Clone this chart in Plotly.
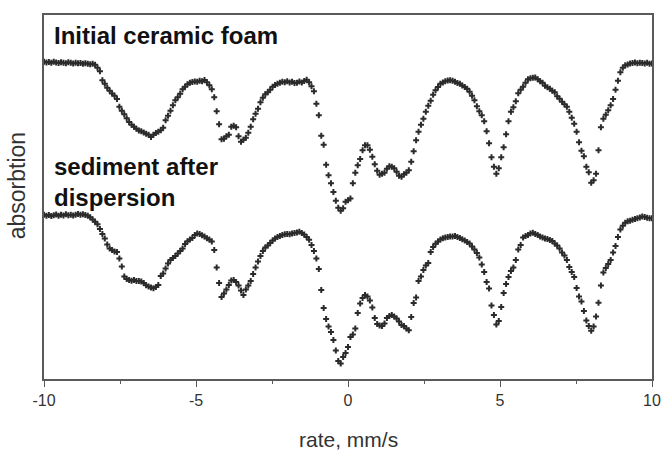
import numpy as np
import plotly.graph_objects as go

# Doppler velocity of each channel, mm/s (251 channels across the sweep)
velocity = np.linspace(-10.0, 10.0, 251)

# Absorption relative to each spectrum's off-resonance baseline (arbitrary units)
foam_abs = [
    -0.5, 0.3, -0.2, 0.6, -0.5, 0.2, 0.8, -0.1, 0.4, 1.0,
    0.1, 0.6, 1.2, 0.4, 1.0, 0.7, 1.5, 0.9, 1.6, 2.0,
    1.4, 2.5, 5.5, 9.0, 18.0, 21.5, 25.5, 28.5, 31.3, 33.5,
    36.8, 44.5, 48.5, 52.0, 56.0, 59.8, 62.5, 64.5, 66.6, 68.2,
    69.0, 70.4, 71.5, 72.6, 74.8, 72.5, 70.8, 69.6, 68.0, 65.5,
    58.0, 53.5, 48.5, 43.0, 38.0, 35.0, 31.5, 27.0, 24.5, 22.0,
    20.5, 19.8, 19.2, 19.5, 18.6, 18.9, 17.8, 20.0, 23.0, 27.0,
    35.0, 49.0, 62.0, 77.0, 76.5, 74.0, 72.5, 64.5, 63.5, 65.0,
    74.0, 79.5, 77.5, 75.5, 70.5, 64.5, 57.0, 51.5, 46.5, 40.0,
    35.5, 32.0, 30.0, 27.5, 24.5, 22.8, 21.5, 20.6, 19.5, 20.0,
    19.0, 20.2, 19.4, 20.7, 20.5, 19.2, 20.3, 18.7, 17.4, 20.0,
    24.0, 29.0, 41.5, 53.0, 73.5, 82.5, 102.5, 113.0, 121.0, 129.8,
    138.5, 145.5, 148.5, 146.0, 139.7, 138.0, 136.3, 121.0, 110.5, 103.0,
    96.8, 88.0, 83.0, 83.0, 87.5, 94.5, 102.0, 108.5, 112.5, 111.5,
    110.5, 106.5, 104.0, 104.5, 106.0, 109.5, 113.5, 114.5, 112.0, 110.5,
    108.0, 99.5, 89.0, 78.0, 69.5, 62.5, 56.5, 49.5, 43.5, 38.5,
    32.5, 28.0, 24.8, 21.5, 20.3, 19.0, 18.2, 18.0, 18.5, 19.5,
    20.8, 21.6, 23.2, 24.8, 26.5, 29.5, 33.5, 38.0, 44.0, 49.0,
    53.0, 59.0, 69.0, 81.0, 95.0, 104.5, 111.5, 106.0, 95.0, 85.0,
    72.0, 59.0, 49.5, 45.0, 39.0, 31.0, 27.5, 24.5, 20.5, 17.0,
    16.0, 15.5, 15.3, 17.0, 19.0, 20.5, 23.5, 25.0, 26.5, 28.5,
    30.0, 34.0, 36.5, 39.5, 42.0, 44.5, 49.5, 55.5, 61.5, 69.5,
    80.0, 88.5, 94.0, 104.5, 110.0, 120.5, 118.0, 111.5, 88.0, 65.0,
    56.5, 52.5, 48.0, 43.0, 36.8, 27.5, 18.5, 10.0, 5.5, 3.0,
    2.2, 1.2, 0.8, 0.2, 1.0, 0.4, 0.7, 1.3, 0.5, 1.4,
    1.2,
]

sediment_abs = [
    -0.5, 0.5, -0.2, 0.8, 0.0, -0.7, 0.6, -0.3, 0.3, -0.8,
    0.2, -0.4, 0.4, -0.5, -1.2, -0.4, -1.0, -0.2, 0.5, 2.0,
    4.3, 6.5, 9.0, 14.0, 19.0, 23.5, 29.5, 33.5, 35.0, 36.3,
    37.0, 43.5, 51.5, 61.5, 64.0, 65.0, 65.6, 64.8, 65.8, 66.0,
    66.5, 68.0, 70.2, 71.5, 72.5, 73.3, 72.0, 70.0, 61.0, 58.5,
    53.5, 48.5, 44.8, 43.0, 41.0, 38.5, 36.0, 33.5, 29.0, 26.2,
    24.5, 23.0, 20.0, 18.3, 19.0, 20.2, 21.3, 23.2, 24.5, 26.5,
    35.0, 52.5, 68.0, 82.0, 78.5, 74.5, 70.0, 65.5, 65.0, 67.0,
    70.5, 75.5, 80.0, 74.5, 70.5, 66.0, 59.0, 52.5, 46.5, 41.0,
    36.0, 32.5, 30.5, 28.0, 25.5, 23.3, 22.0, 20.8, 19.8, 19.2,
    18.8, 19.2, 18.4, 17.8, 17.3, 16.7, 18.0, 19.5, 21.8, 24.6,
    30.0, 36.0, 43.5, 53.8, 75.0, 93.0, 104.0, 111.5, 117.0, 125.0,
    135.5, 146.0, 148.5, 142.0, 138.0, 132.0, 122.0, 119.5, 113.5, 98.0,
    88.5, 83.0, 80.0, 81.5, 85.5, 92.5, 103.0, 109.0, 110.5, 111.0,
    108.5, 103.0, 101.0, 100.0, 101.5, 103.5, 106.5, 110.0, 111.0, 113.5,
    115.3, 102.0, 88.0, 82.5, 66.0, 61.5, 55.0, 50.5, 48.0, 37.0,
    32.0, 28.6, 26.5, 24.5, 23.2, 22.5, 22.0, 21.5, 21.3, 21.0,
    21.8, 23.0, 24.2, 25.5, 26.8, 28.5, 31.5, 34.5, 38.0, 42.5,
    49.5, 57.0, 67.0, 73.5, 90.5, 100.0, 109.5, 106.0, 92.0, 78.0,
    69.0, 62.0, 56.0, 52.5, 45.0, 34.5, 30.0, 22.5, 21.0, 20.0,
    18.5, 17.7, 19.0, 20.0, 21.3, 22.5, 23.5, 24.0, 24.8, 26.0,
    28.5, 30.5, 33.5, 37.5, 40.5, 45.0, 52.0, 57.0, 62.0, 73.0,
    81.5, 86.5, 96.0, 105.5, 111.0, 115.7, 111.5, 101.5, 87.7, 70.5,
    57.5, 53.0, 49.0, 45.0, 37.5, 31.0, 22.0, 14.5, 10.5, 7.5,
    6.2, 5.5, 4.6, 3.8, 3.0, 2.3, 1.3, 1.8, 2.5, 3.2,
    3.0,
]

labels = ["Initial ceramic foam", "sediment after<br>dispersion"]
x_ticks = [-10, -5, 0, 5, 10]
x_title = "rate, mm/s"
y_title = "absorbtion"

# vertical stacking of the two spectra (absorption grows downwards)
FOAM_SHIFT = 47.3
SEDIMENT_SHIFT = 200.3

INK = "#2b2b2b"
FRAME = "#5a5a5a"
TEXT = "#333333"
FONT = "Liberation Sans, Arial, sans-serif"

fig = go.Figure()
for vals, shift in ((foam_abs, FOAM_SHIFT), (sediment_abs, SEDIMENT_SHIFT)):
    fig.add_trace(go.Scatter(
        x=velocity,
        y=[shift + v for v in vals],
        mode="markers",
        marker=dict(symbol="cross", size=5, color=INK, line=dict(width=0)),
        showlegend=False,
        hoverinfo="skip",
    ))

# sample labels inside the frame
fig.add_annotation(x=-9.74, y=20.5, xref="x", yref="y", text=f"<b>{labels[0]}</b>",
                   showarrow=False, xanchor="left", yanchor="middle", align="left",
                   font=dict(family=FONT, size=24, color="#111111"))
fig.add_annotation(x=-9.74, y=167, xref="x", yref="y", text=f"<b>{labels[1]}</b>",
                   showarrow=False, xanchor="left", yanchor="middle", align="left",
                   font=dict(family=FONT, size=24, color="#111111"))

# axis titles
fig.add_annotation(x=0.5, y=-0.167, xref="paper", yref="paper", text=x_title,
                   showarrow=False, xanchor="center", yanchor="middle",
                   font=dict(family=FONT, size=21, color=TEXT))
fig.add_annotation(x=-0.044, y=0.53, xref="paper", yref="paper", text=y_title,
                   textangle=-90, showarrow=False, xanchor="center", yanchor="middle",
                   font=dict(family=FONT, size=23, color=TEXT))

fig.update_layout(
    width=670, height=457,
    margin=dict(l=44, r=9, t=15, b=78),
    paper_bgcolor="white", plot_bgcolor="white",
    font=dict(family=FONT, color=TEXT),
)
fig.update_xaxes(
    range=[-10, 10], tickvals=x_ticks, ticktext=[str(t) for t in x_ticks],
    ticks="outside", ticklen=6, tickwidth=1.3, tickcolor=FRAME,
    minor=dict(ticks="outside", ticklen=3, tickwidth=1.3, tickcolor=FRAME, dtick=2.5, tick0=0),
    tickfont=dict(size=16, color=TEXT),
    showgrid=False, zeroline=False,
    showline=True, linecolor=FRAME, linewidth=1.5, mirror=True,
)
fig.update_yaxes(
    range=[364.3, 0], showticklabels=False, ticks="",
    showgrid=False, zeroline=False,
    showline=True, linecolor=FRAME, linewidth=1.5, mirror=True,
)

fig.write_html("out.html")
